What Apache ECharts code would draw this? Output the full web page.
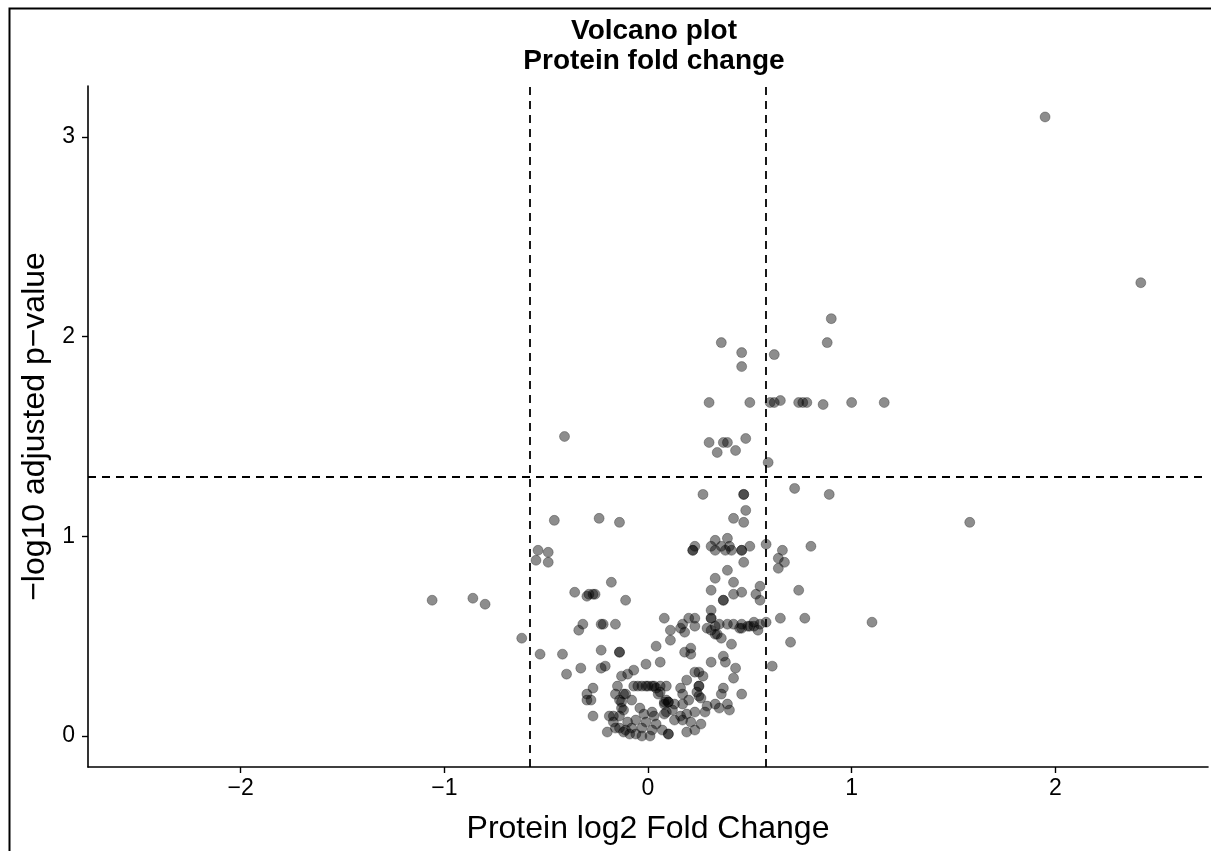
<!DOCTYPE html>
<html>
<head>
<meta charset="utf-8">
<title>Volcano plot</title>
<script src="https://cdn.jsdelivr.net/npm/echarts@6/dist/echarts.min.js"></script>
<style>
  html, body { margin: 0; padding: 0; background: #ffffff; }
  #chart { width: 1211px; height: 851px; }
</style>
</head>
<body>
<div id="chart"></div>
<script>
// Protein log2 fold change for each protein
const log2FC = [
  1.95, 2.42, 0.90, 0.36, 0.88, 0.46, 0.62, 0.46,
  0.30, 0.50, 0.60, 0.62, 0.65, 0.74, 0.76, 0.78, 0.86, 1.00, 1.16,
  -0.41, 0.30, 0.37, 0.39, 0.48, 0.34, 0.43, 0.59,
  0.27, 0.47, 0.47, 0.72, 0.89, 1.58, 0.48,
  -0.46, -0.24, -0.14, 0.42, 0.47,
  -0.54, -0.49, -0.55, -0.49,
  0.22, 0.22, 0.23, 0.31, 0.33, 0.33, 0.36, 0.39, 0.38, 0.40, 0.41, 0.46, 0.46, 0.50, 0.47, 0.58, 0.64, 0.66, 0.67, 0.64, 0.80,
  -0.18, -0.36, -0.30, -0.29, -0.27, -0.26, -0.11, -1.06, -0.86, -0.80,
  0.39, 0.33, 0.42, 0.31, 0.42, 0.46, 0.37, 0.37, 0.53, 0.55, 0.55, 0.74, 1.10, 0.77, 0.65, 0.70, 0.61,
  0.31, 0.31, 0.31, 0.08, 0.20, 0.23,
  -0.62, -0.53, -0.42, -0.32, -0.34, -0.23, -0.22, -0.16, 0.11, 0.11, 0.04, -0.23, -0.14, -0.14,
  0.17, 0.23, 0.29, 0.33, 0.35, 0.39, 0.42, 0.46, 0.46, 0.50, 0.52, 0.54, 0.55, 0.58,
  0.16, 0.18, 0.31, 0.33, 0.36, 0.41,
  0.18, 0.21, 0.21, 0.37, 0.38, 0.43, 0.42, 0.46, 0.31,
  -0.40, -0.33, -0.23, -0.21, -0.01, 0.06, -0.13, -0.10, -0.07,
  -0.27, -0.30, -0.30, -0.28, -0.27, -0.20,
  0.23, 0.25, 0.27, 0.19, 0.25, 0.25, 0.36, 0.37, 0.16, 0.17, 0.24, 0.25,
  0.29, 0.33, 0.35, 0.39, 0.40, 0.26, 0.20, 0.17, 0.13, 0.23, 0.28, 0.19, 0.16, 0.17, 0.21, 0.26, 0.23, 0.19, 0.13, 0.10, 0.10,
  -0.15, -0.07, -0.05, -0.03, -0.01, 0.00, 0.02, 0.03, 0.06, 0.09,
  -0.16, -0.11, -0.12, 0.05, 0.09, 0.10, 0.08,
  -0.14, -0.12, -0.08, -0.04, -0.02, 0.02, 0.03, 0.08,
  -0.19, -0.17, -0.14, -0.10, -0.08, -0.06, -0.03, -0.01, 0.02, 0.04, 0.07, -0.03, 0.01, -0.06, -0.09, -0.11,
  -0.13, -0.13, -0.17, -0.14, -0.16, -0.12,
  0.04, 0.06, 0.08, 0.10, 0.12, 0.09,
  0.49, 0.52, 0.45, 0.34
];

// -log10 adjusted p-value for each protein (same order)
const negLog10P = [
  3.10, 2.27, 2.09, 1.97, 1.97, 1.92, 1.91, 1.85,
  1.67, 1.67, 1.67, 1.67, 1.68, 1.67, 1.67, 1.67, 1.66, 1.67, 1.67,
  1.50, 1.47, 1.47, 1.47, 1.49, 1.42, 1.43, 1.37,
  1.21, 1.21, 1.21, 1.24, 1.21, 1.07, 1.13,
  1.08, 1.09, 1.07, 1.09, 1.07,
  0.93, 0.92, 0.88, 0.87,
  0.93, 0.93, 0.95, 0.95, 0.98, 0.93, 0.95, 0.99, 0.93, 0.95, 0.93, 0.93, 0.93, 0.95, 0.87, 0.96, 0.89, 0.93, 0.87, 0.84, 0.95,
  0.77, 0.72, 0.70, 0.71, 0.71, 0.71, 0.68, 0.68, 0.69, 0.66,
  0.83, 0.79, 0.77, 0.73, 0.71, 0.72, 0.68, 0.68, 0.71, 0.75, 0.68, 0.73, 0.57, 0.59, 0.59, 0.47, 0.35,
  0.63, 0.59, 0.59, 0.59, 0.59, 0.59,
  0.49, 0.41, 0.41, 0.56, 0.53, 0.56, 0.56, 0.56, 0.53, 0.48, 0.45, 0.43, 0.42, 0.42,
  0.56, 0.55, 0.54, 0.55, 0.56, 0.56, 0.56, 0.54, 0.56, 0.55, 0.57, 0.53, 0.56, 0.57,
  0.54, 0.52, 0.53, 0.51, 0.49, 0.46,
  0.42, 0.44, 0.41, 0.40, 0.37, 0.34, 0.29, 0.21, 0.37,
  0.31, 0.34, 0.34, 0.35, 0.36, 0.37, 0.30, 0.31, 0.33,
  0.24, 0.21, 0.18, 0.18, 0.10, 0.02,
  0.32, 0.32, 0.30, 0.28, 0.25, 0.25, 0.21, 0.24, 0.24, 0.21, 0.22, 0.20,
  0.15, 0.16, 0.14, 0.16, 0.13, 0.19, 0.18, 0.16, 0.16, 0.12, 0.12, 0.11, 0.10, 0.08, 0.07, 0.06, 0.03, 0.02, 0.08, 0.01, 0.01,
  0.25, 0.25, 0.25, 0.25, 0.25, 0.25, 0.25, 0.25, 0.25, 0.25,
  0.21, 0.21, 0.21, 0.21, 0.18, 0.17, 0.16,
  0.18, 0.13, 0.18, 0.14, 0.11, 0.12, 0.10, 0.11,
  0.10, 0.07, 0.04, 0.07, 0.04, 0.08, 0.04, 0.07, 0.03, 0.06, 0.03, 0.00, 0.00, 0.01, 0.01, 0.03,
  0.17, 0.14, 0.10, 0.10, 0.04, 0.02,
  0.24, 0.22, 0.17, 0.17, 0.13, 0.12,
  0.55, 0.55, 0.54, 0.51
];

// Significance thresholds: |log2FC| = log2(1.5), adjusted p = 0.05
const fcThresholds = [-0.585, 0.585];
const pThreshold = 1.301;

// Axis ranges and tick positions
const xRange = [-2.75, 2.75];
const yRange = [-0.155, 3.255];
const xTicks = [-2, -1, 0, 1, 2];
const yTicks = [0, 1, 2, 3];

const points = log2FC.map((fc, i) => [fc, negLog10P[i]]);

const FONT = '"Liberation Sans", Arial, Helvetica, sans-serif';
const fmtMinus = v => String(v).replace('-', '\u2212');

const chart = echarts.init(document.getElementById('chart'), null, { renderer: 'canvas' });

chart.setOption({
  backgroundColor: '#ffffff',
  animation: false,
  title: {
    text: 'Volcano plot\nProtein fold change',
    left: 649,
    top: 11,
    textAlign: 'center',
    textStyle: {
      fontFamily: FONT,
      fontSize: 28,
      fontWeight: 'bold',
      color: '#000000',
      lineHeight: 30
    }
  },
  grid: {
    left: 88,
    right: 3,
    top: 86,
    bottom: 84,
    containLabel: false
  },
  xAxis: {
    type: 'value',
    min: xRange[0],
    max: xRange[1],
    name: 'Protein log2 Fold Change',
    nameLocation: 'middle',
    nameGap: 46,
    nameTextStyle: { fontFamily: FONT, fontSize: 32, color: '#000000' },
    axisLine: { show: true, onZero: false, lineStyle: { color: '#000000', width: 1.6 } },
    axisTick: { show: true, length: 6, lineStyle: { color: '#000000', width: 1.4 }, customValues: xTicks },
    axisLabel: {
      customValues: xTicks,
      formatter: fmtMinus,
      fontFamily: FONT,
      fontSize: 23,
      color: '#000000',
      margin: 10
    },
    splitLine: { show: false }
  },
  yAxis: {
    type: 'value',
    min: yRange[0],
    max: yRange[1],
    name: '\u2212log10 adjusted p\u2212value',
    nameLocation: 'middle',
    nameGap: 28,
    nameTextStyle: { fontFamily: FONT, fontSize: 32, color: '#000000' },
    axisLine: { show: true, onZero: false, lineStyle: { color: '#000000', width: 1.6 } },
    axisTick: { show: true, length: 6, lineStyle: { color: '#000000', width: 1.4 }, customValues: yTicks },
    axisLabel: {
      customValues: yTicks,
      formatter: fmtMinus,
      fontFamily: FONT,
      fontSize: 23,
      color: '#000000',
      margin: 13
    },
    splitLine: { show: false }
  },
  graphic: [
    {
      type: 'polyline',
      silent: true,
      shape: { points: [[9.5, 851], [9.5, 8.5], [1211, 8.5]] },
      style: { stroke: '#000000', lineWidth: 2, fill: null }
    }
  ],
  series: [
    {
      type: 'scatter',
      data: points,
      symbol: 'circle',
      symbolSize: 10,
      itemStyle: {
        color: 'rgba(0,0,0,0.56)',
        borderColor: 'rgba(0,0,0,0.35)',
        borderWidth: 1
      },
      markLine: {
        silent: true,
        symbol: ['none', 'none'],
        label: { show: false },
        lineStyle: { color: '#000000', width: 1.8, type: [8, 6] },
        data: [
          { xAxis: fcThresholds[0] },
          { xAxis: fcThresholds[1] },
          { yAxis: pThreshold }
        ]
      }
    }
  ]
});
</script>
</body>
</html>
